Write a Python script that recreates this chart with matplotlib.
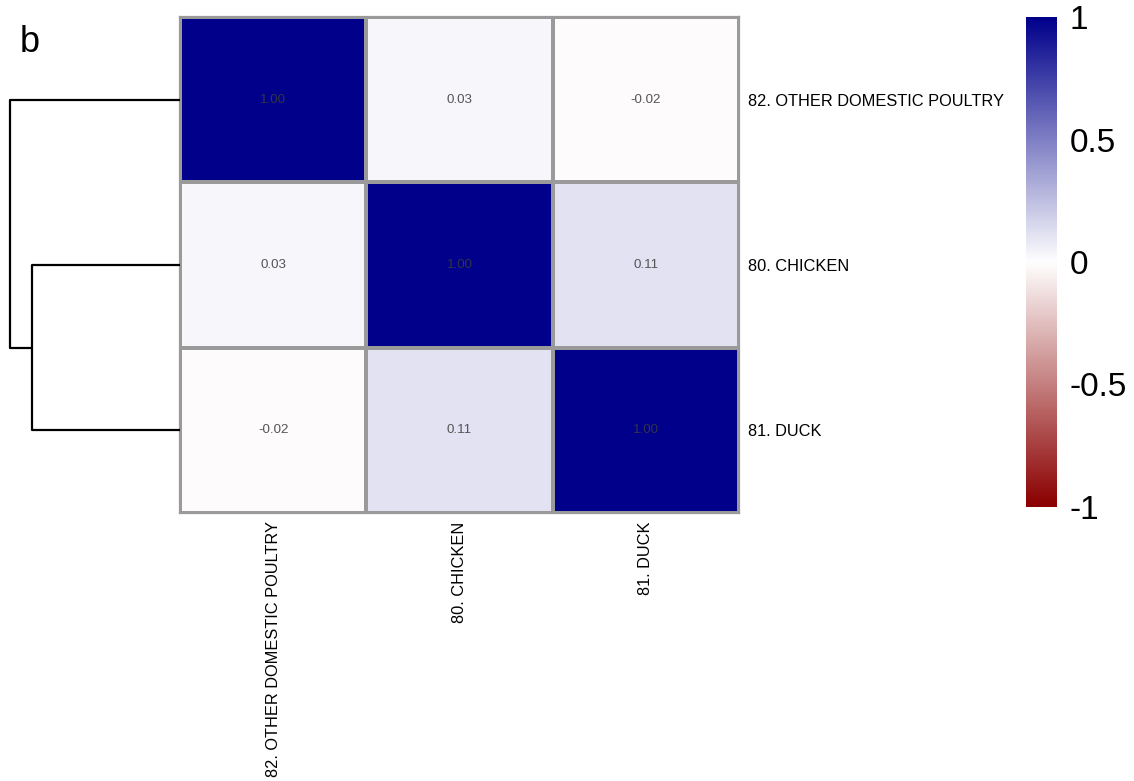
import matplotlib
matplotlib.use("Agg")
import matplotlib.pyplot as plt
import numpy as np
from matplotlib.colors import LinearSegmentedColormap

plt.rcParams["font.family"] = ["Liberation Sans", "DejaVu Sans"]

# correlation matrix, clustered order
labels = ["82. OTHER DOMESTIC POULTRY", "80. CHICKEN", "81. DUCK"]
corr = np.array([
    [1.00, 0.03, -0.02],
    [0.03, 1.00, 0.11],
    [-0.02, 0.11, 1.00],
])
# dendrogram merges: (left leaf/cluster row, right leaf/cluster row, height)
merge_pairs = [(1, 2), (0, "c1")]
merge_heights = [0.89, 1.02]
key_ticks = [-1, -0.5, 0, 0.5, 1]
key_labels = ["-1", "-0.5", "0", "0.5", "1"]

W, H = 1134, 781
fig = plt.figure(figsize=(W / 100, H / 100), dpi=100)


def px_axes(x0, y0, x1, y1):
    return fig.add_axes([x0 / W, 1 - y1 / H, (x1 - x0) / W, (y1 - y0) / H])


# darkred -> white -> darkblue, 200 steps
cmap = LinearSegmentedColormap.from_list(
    "rdbu", ["#8B0000", "#FFFFFF", "#00008B"], N=200)

# heatmap
ax = px_axes(180, 17, 739, 513)
n = len(labels)
ax.pcolormesh(np.arange(n + 1), np.arange(n + 1), corr, cmap=cmap,
              vmin=-1, vmax=1, edgecolors="#9a9a9a", linewidth=1.6)
ax.set_xlim(0, n)
ax.set_ylim(n, 0)
for i in range(n):
    for j in range(n):
        ax.text(j + 0.5, i + 0.5, f"{corr[i, j]:.2f}", ha="center",
                va="center", fontsize=9.6,
                color="#33334a" if corr[i, j] > 0.8 else "#555555")
ax.set_xticks(np.arange(n) + 0.5)
ax.set_xticklabels(labels, rotation=90, fontsize=11.8)
ax.set_yticks(np.arange(n) + 0.5)
ax.set_yticklabels(labels, fontsize=11.8)
ax.yaxis.tick_right()
ax.tick_params(axis="x", length=0, pad=6)
ax.tick_params(axis="y", length=0, pad=6.5)
for s in ax.spines.values():
    s.set_color("#9a9a9a")
    s.set_linewidth(1.6)

# row dendrogram
dax = px_axes(10, 17, 180, 513)
dax.set_ylim(n, 0)
dax.set_xlim(max(merge_heights), 0)
dax.axis("off")
pos = {i: i + 0.5 for i in range(n)}
hts = {i: 0.0 for i in range(n)}
for k, ((a, b), h) in enumerate(zip(merge_pairs, merge_heights)):
    ya, yb = pos[a], pos[b]
    dax.plot([hts[a], h, h, hts[b]], [ya, ya, yb, yb], color="black",
             lw=1.6, solid_capstyle="butt", clip_on=False)
    key = f"c{k + 1}"
    pos[key] = (ya + yb) / 2
    hts[key] = h

# colour key
cax = px_axes(1026, 17, 1057, 507)
grad = np.linspace(-1, 1, 200).reshape(-1, 1)
cax.imshow(grad, cmap=cmap, vmin=-1, vmax=1, aspect="auto",
           origin="lower", extent=[0, 1, -1, 1])
cax.set_xticks([])
cax.yaxis.tick_right()
cax.set_yticks(key_ticks)
cax.set_yticklabels(key_labels, fontsize=24)
cax.tick_params(length=0, pad=9)
for s in cax.spines.values():
    s.set_visible(False)

fig.text(20 / W, 1 - 42 / H, "b", fontsize=26, va="center", ha="left")

fig.savefig("out.png", dpi=100, facecolor="white")
